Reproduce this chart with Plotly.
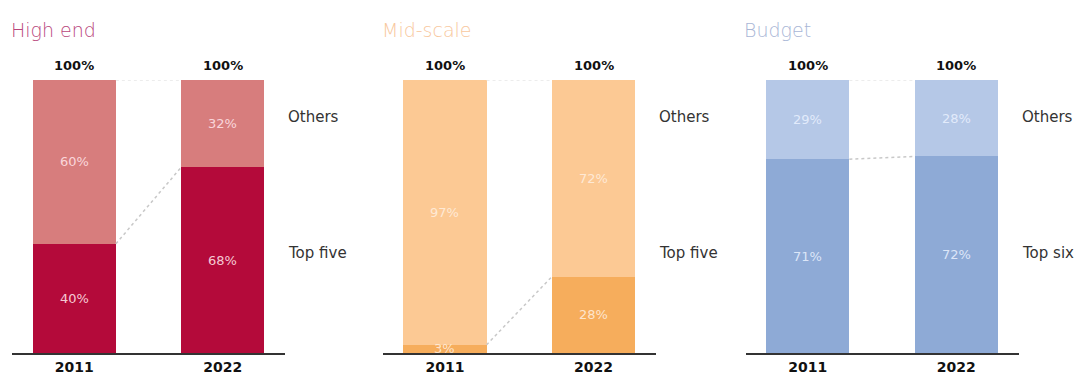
import plotly.graph_objects as go

years = ["2011", "2022"]
segments = ["High end", "Mid-scale", "Budget"]
top_labels = ["Top five", "Top five", "Top six"]
top_share = {"High end": [40, 68], "Mid-scale": [3, 28], "Budget": [71, 72]}
others_share = {"High end": [60, 32], "Mid-scale": [97, 72], "Budget": [29, 28]}
totals = [100, 100]

top_colors = {"High end": "#b40a3a", "Mid-scale": "#f6ad5c", "Budget": "#8eaad6"}
other_colors = {"High end": "#d77d7d", "Mid-scale": "#fcc994", "Budget": "#b5c8e7"}
title_colors = {"High end": "#b9477c", "Mid-scale": "#f8c89e", "Budget": "#a9b6d6"}
label_text_colors = {"High end": "rgba(255,225,230,0.9)", "Mid-scale": "rgba(255,240,225,0.85)", "Budget": "rgba(235,242,255,0.85)"}

W, H = 1086, 380
base_px, top_px = 353, 80
domains = [(12, 285), (382.5, 656), (745.5, 1018.5)]
xr = [-0.42, 1.42]
bw = 0.56
xpos = [0, 1]

fig = go.Figure()
layout = dict(width=W, height=H, autosize=False, margin=dict(l=0, r=0, t=0, b=0),
              plot_bgcolor="white", paper_bgcolor="white", showlegend=False,
              barmode="stack")
annotations = []
shapes = []
ydom = [(H - base_px) / H, (H - top_px) / H]
BOLD = dict(family="DejaVu Sans", color="#111111", weight=700)

for i, seg in enumerate(segments):
    n = "" if i == 0 else str(i + 1)
    xa, ya = "x" + n, "y" + n
    fig.add_trace(go.Bar(x=xpos, y=top_share[seg], width=bw, marker_color=top_colors[seg],
                         marker_line_width=0, xaxis=xa, yaxis=ya, hoverinfo="skip"))
    fig.add_trace(go.Bar(x=xpos, y=others_share[seg], width=bw, marker_color=other_colors[seg],
                         marker_line_width=0, xaxis=xa, yaxis=ya, hoverinfo="skip"))
    d0, d1 = domains[i]
    layout["xaxis" + n] = dict(domain=[d0 / W, d1 / W], range=xr, tickvals=xpos, ticktext=years,
                               showgrid=False, zeroline=False, showline=True, linecolor="#333333",
                               linewidth=2, ticks="", fixedrange=True,
                               tickfont=dict(size=14, **BOLD), anchor=ya)
    layout["yaxis" + n] = dict(domain=ydom, range=[0, 100], visible=False, fixedrange=True, anchor=xa)
    for j in range(2):
        t, o = top_share[seg][j], others_share[seg][j]
        annotations.append(dict(x=xpos[j], y=t / 2, xref=xa, yref=ya, text=f"{t}%", showarrow=False,
                                font=dict(family="DejaVu Sans", size=13, color=label_text_colors[seg])))
        annotations.append(dict(x=xpos[j], y=t + o / 2, xref=xa, yref=ya, text=f"{o}%", showarrow=False,
                                font=dict(family="DejaVu Sans", size=13, color=label_text_colors[seg])))
        annotations.append(dict(x=xpos[j], y=totals[j], xref=xa, yref=ya, text=f"{totals[j]}%",
                                showarrow=False, yanchor="bottom", yshift=5,
                                font=dict(size=13, **BOLD)))
    annotations.append(dict(x=xr[1], y=86.5, xref=xa, yref=ya, text="Others", showarrow=False,
                            xanchor="left", xshift=1, font=dict(family="DejaVu Sans", size=15, color="#333333")))
    annotations.append(dict(x=xr[1], y=36.5, xref=xa, yref=ya, text=top_labels[i], showarrow=False,
                            xanchor="left", xshift=1, font=dict(family="DejaVu Sans", size=15, color="#333333")))
    annotations.append(dict(x=(d0 - 3) / W, y=1 - 30 / H, xref="paper", yref="paper", text=seg,
                            showarrow=False, xanchor="left", yanchor="middle",
                            font=dict(family="DejaVu Sans", size=19, color=title_colors[seg], weight=200)))
    shapes.append(dict(type="line", xref=xa, yref=ya, x0=xpos[0] + bw / 2, x1=xpos[1] - bw / 2,
                       y0=top_share[seg][0], y1=top_share[seg][1],
                       line=dict(color="#c8c8c8", width=1.5, dash="dot")))
    shapes.append(dict(type="line", xref=xa, yref=ya, x0=xpos[0] + bw / 2, x1=xpos[1] - bw / 2,
                       y0=totals[0], y1=totals[1],
                       line=dict(color="#e6e6e6", width=1.5, dash="dot")))

layout["annotations"] = annotations
layout["shapes"] = shapes
fig.update_layout(**layout)
fig.write_html("out.html")
